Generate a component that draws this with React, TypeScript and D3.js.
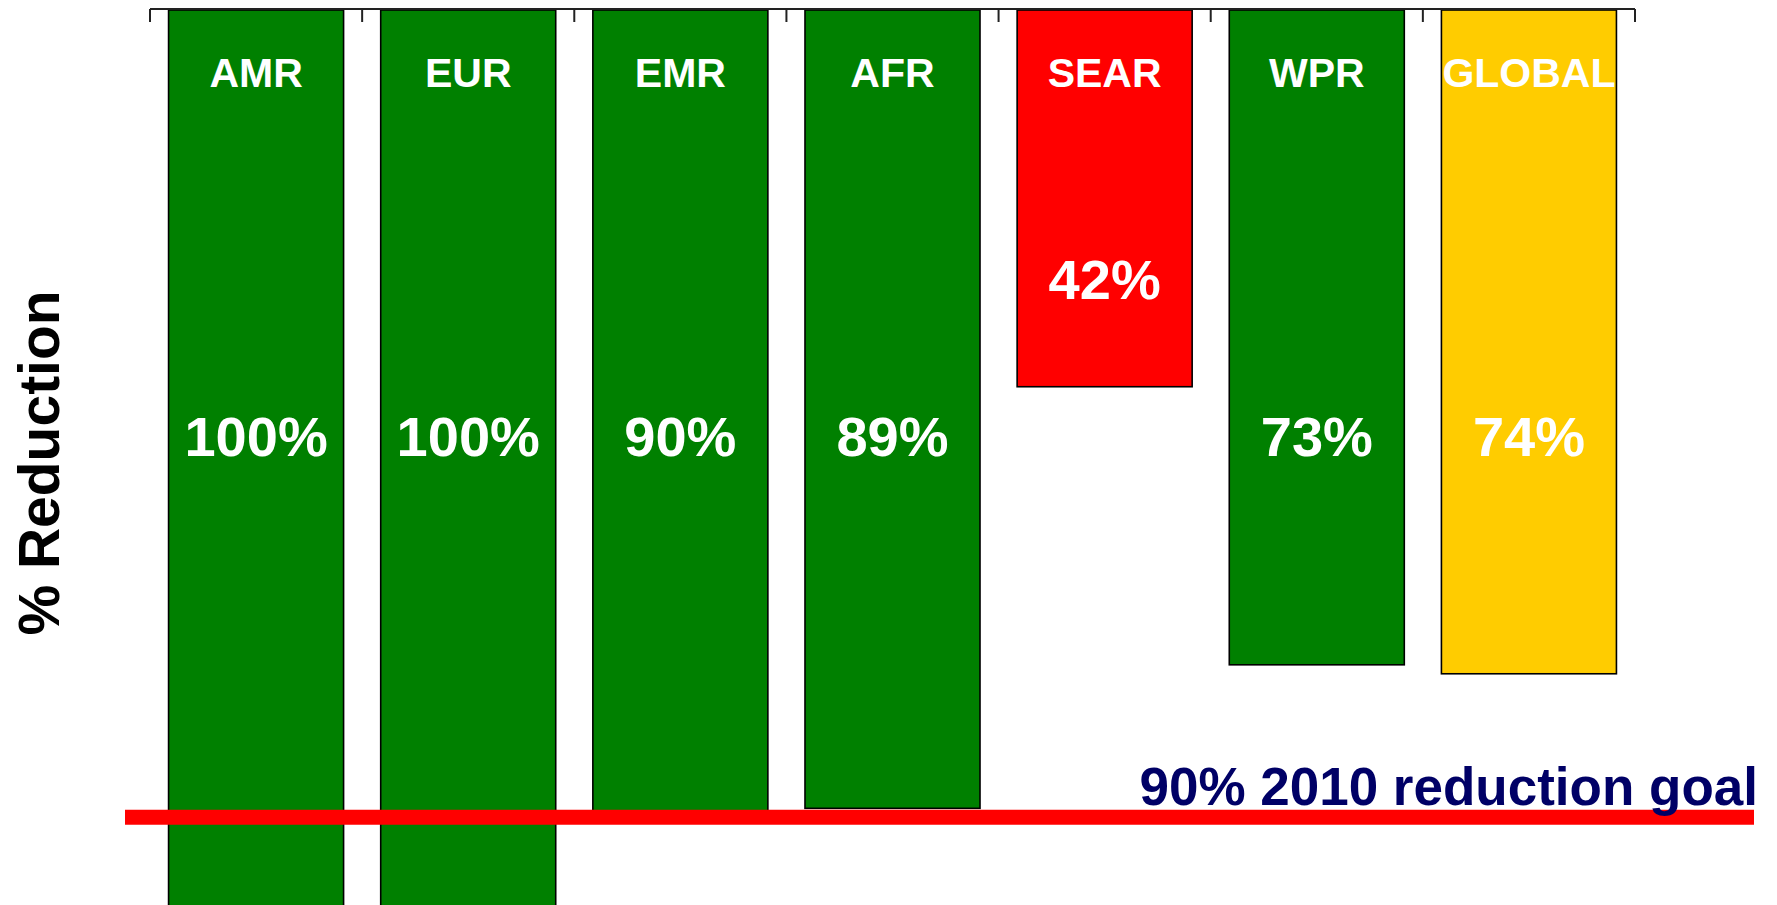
import React from "react";
import * as d3 from "d3";

const categories = ["AMR", "EUR", "EMR", "AFR", "SEAR", "WPR", "GLOBAL"];
const reductions = [100, 100, 90, 89, 42, 73, 74];
const barColors = ["#008000", "#008000", "#008000", "#008000", "#FF0000", "#008000", "#FFCC00"];
const goalValue = 90;
const goalLabel = "90% 2010 reduction goal";
const yTitle = "% Reduction";

const W = 1777;
const H = 905;
const FONT = "'Liberation Sans', Arial, Helvetica, sans-serif";

export default function App() {
  const x = d3.scaleBand<string>().domain(categories).range([150, 1635]).paddingInner(0.175).paddingOuter(0.0875);
  const y = d3.scaleLinear().domain([0, 100]).range([10, 907]);
  const step = x.step();
  const tickXs = categories.map((c) => (x(c) as number) - (step * 0.175) / 2);
  tickXs.push((x(categories[categories.length - 1]) as number) + x.bandwidth() + (step * 0.175) / 2);
  const axisY = y(0) - 1;

  const valFs = 56;
  const catFs = 41;

  return (
    <svg width={W} height={H} style={{ position: "absolute", left: 0, top: 0, display: "block", background: "#fff" }}>
      <rect x={0} y={0} width={W} height={H} fill="#fff" />
      {categories.map((c, i) => {
        const v = reductions[i];
        const bx = x(c) as number;
        const bw = x.bandwidth();
        const labelVal = Math.min(47.5, v - 12);
        return (
          <g key={c}>
            <rect x={bx} y={y(0)} width={bw} height={y(v) - y(0)} fill={barColors[i]} stroke="#000" strokeWidth={1.6} />
            <text x={bx + bw / 2} y={y(0) + 77} textAnchor="middle" fill="#fff" fontFamily={FONT} fontWeight="bold" fontSize={catFs}>
              {c}
            </text>
            <text x={bx + bw / 2} y={y(labelVal) + valFs * 0.358} textAnchor="middle" fill="#fff" fontFamily={FONT} fontWeight="bold" fontSize={valFs}>
              {v}%
            </text>
          </g>
        );
      })}
      <line x1={tickXs[0]} x2={tickXs[tickXs.length - 1]} y1={axisY} y2={axisY} stroke="#222" strokeWidth={2} />
      {tickXs.map((tx, i) => (
        <line key={i} x1={tx} x2={tx} y1={axisY} y2={axisY + 13} stroke="#222" strokeWidth={2} />
      ))}
      <line x1={125} x2={1754} y1={y(goalValue)} y2={y(goalValue)} stroke="#FF0000" strokeWidth={15} />
      <text x={1758} y={805} textAnchor="end" fill="#000066" fontFamily={FONT} fontWeight="bold" fontSize={53}>
        {goalLabel}
      </text>
      <text transform={`translate(59, 463) rotate(-90)`} textAnchor="middle" fill="#000" fontFamily={FONT} fontWeight="bold" fontSize={57}>
        {yTitle}
      </text>
    </svg>
  );
}
